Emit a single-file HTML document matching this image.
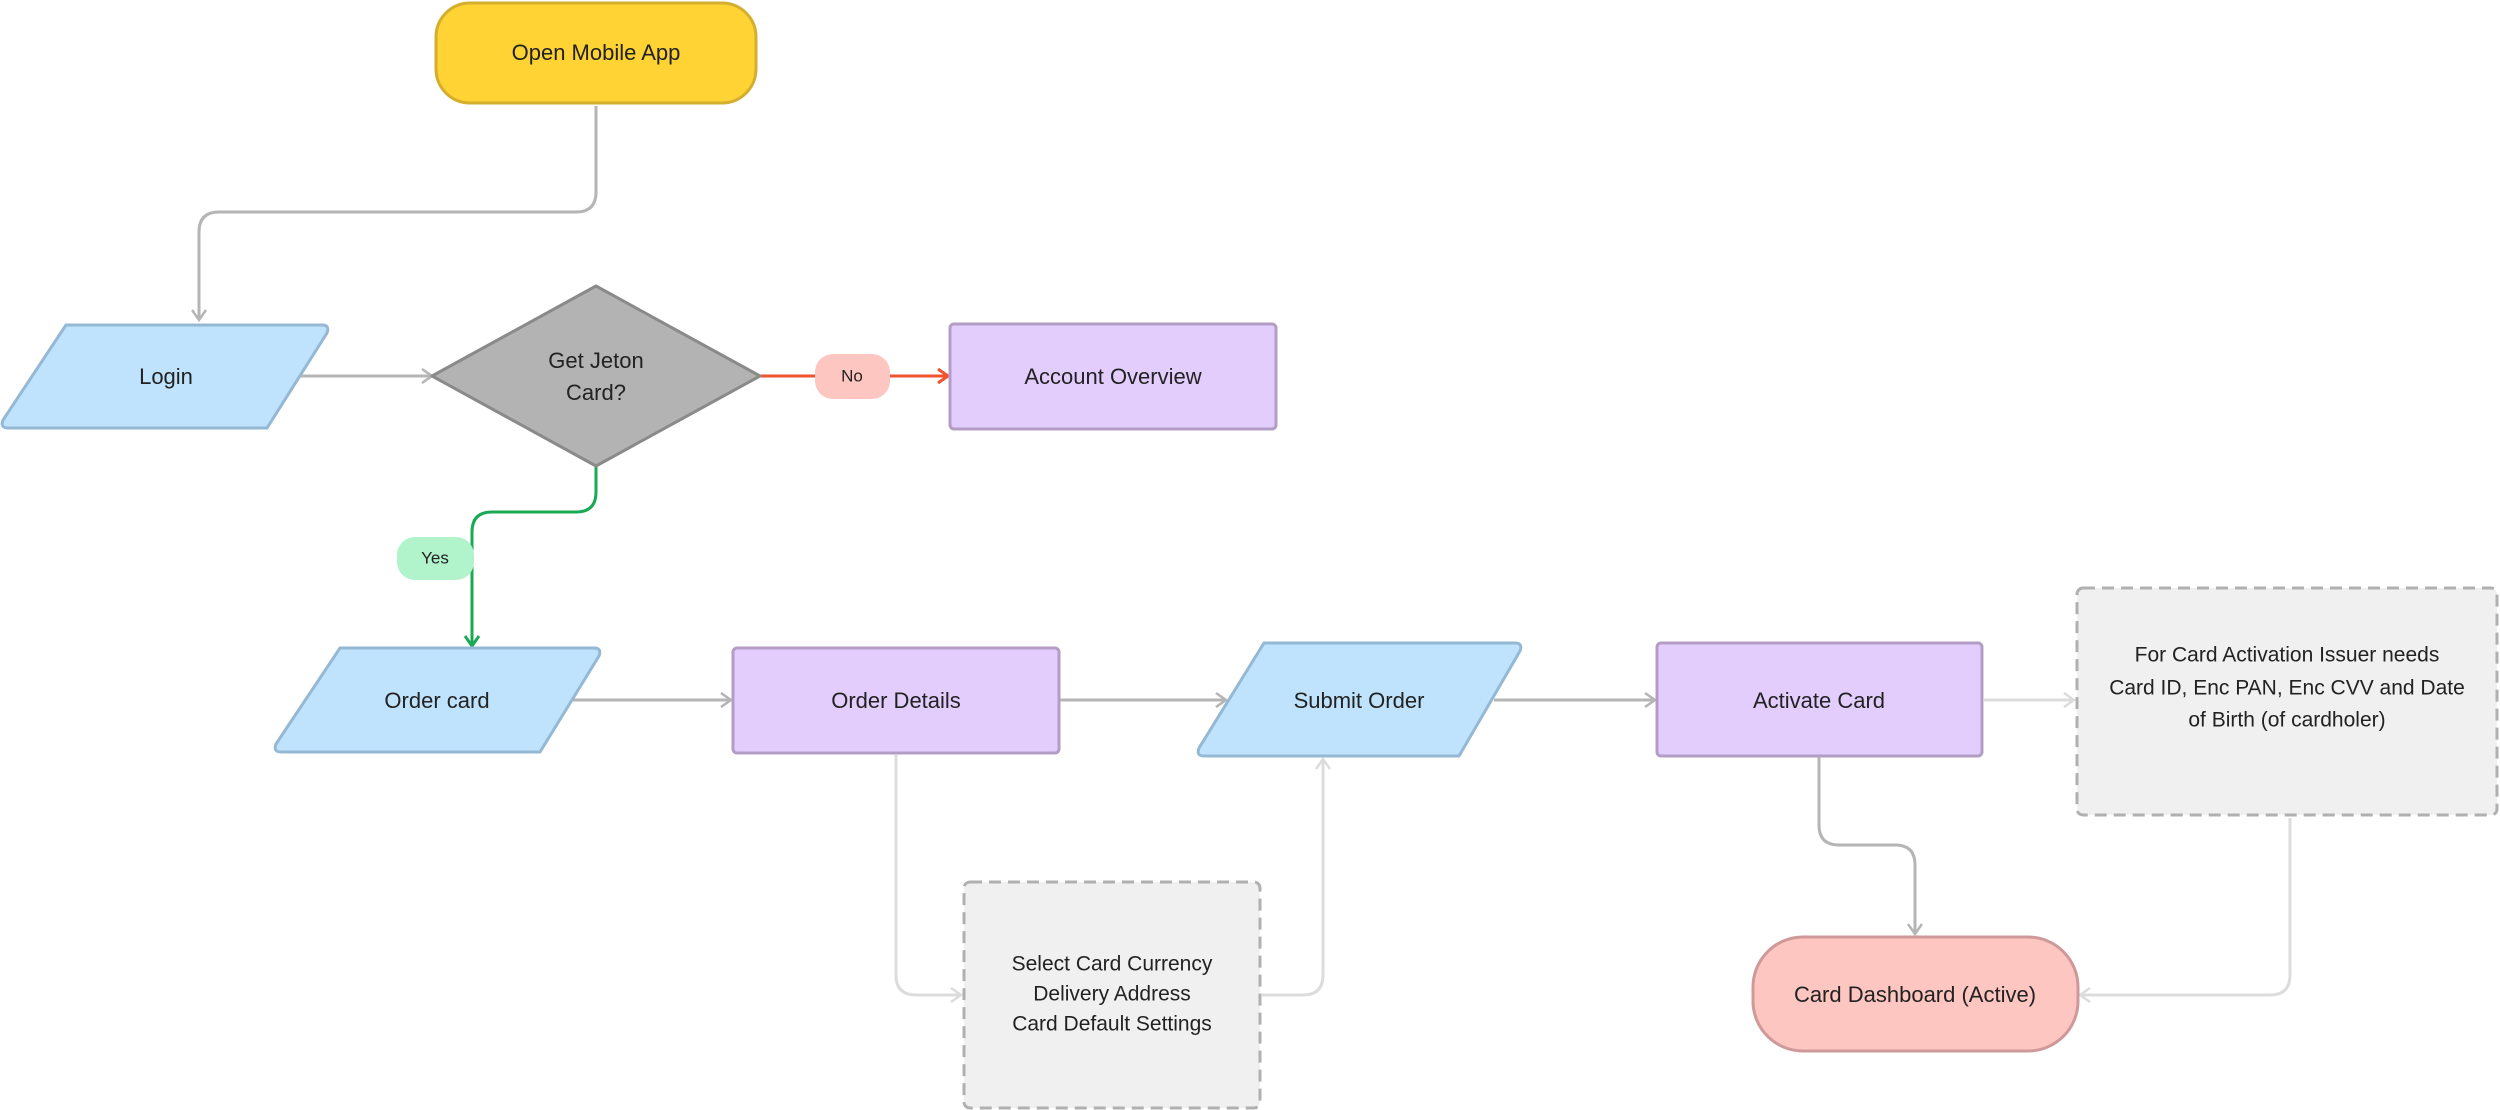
<!DOCTYPE html>
<html><head><meta charset="utf-8"><style>
html,body{margin:0;padding:0;background:#fff;width:2500px;height:1110px;overflow:hidden}
svg text{font-family:"Liberation Sans",Arial,sans-serif;fill:#222;text-anchor:middle;dominant-baseline:middle}
</style></head><body>
<svg width="2500" height="1110" viewBox="0 0 2500 1110" xmlns="http://www.w3.org/2000/svg">
<defs>
<marker id="ag" markerWidth="16" markerHeight="16" refX="12" refY="8" orient="auto" markerUnits="userSpaceOnUse"><path d="M2,1 L12,8 L2,15" fill="none" stroke="#b5b5b5" stroke-width="2.5"/></marker>
<marker id="al" markerWidth="16" markerHeight="16" refX="12" refY="8" orient="auto" markerUnits="userSpaceOnUse"><path d="M2,1 L12,8 L2,15" fill="none" stroke="#dcdcdc" stroke-width="2.5"/></marker>
<marker id="ar" markerWidth="16" markerHeight="16" refX="12" refY="8" orient="auto" markerUnits="userSpaceOnUse"><path d="M2,1 L12,8 L2,15" fill="none" stroke="#f0532f" stroke-width="3"/></marker>
<marker id="agr" markerWidth="16" markerHeight="16" refX="12" refY="8" orient="auto" markerUnits="userSpaceOnUse"><path d="M2,1 L12,8 L2,15" fill="none" stroke="#1aaa55" stroke-width="3"/></marker>
</defs>
<g fill="none" stroke-width="3">
<path d="M596,106 V192 Q596,212 576,212 H219 Q199,212 199,232 V320" stroke="#b5b5b5" marker-end="url(#ag)"/>
<path d="M298,376 H432" stroke="#b5b5b5" marker-end="url(#ag)"/>
<path d="M760,376 H948" stroke="#f0532f" marker-end="url(#ar)"/>
<path d="M596,467 V492 Q596,512 576,512 H492 Q472,512 472,532 V646" stroke="#1aaa55" marker-end="url(#agr)"/>
<path d="M569,700 H731" stroke="#b5b5b5" marker-end="url(#ag)"/>
<path d="M1059,700 H1226" stroke="#b5b5b5" marker-end="url(#ag)"/>
<path d="M1494,700 H1655" stroke="#b5b5b5" marker-end="url(#ag)"/>
<path d="M1984,700 H2074" stroke="#dcdcdc" marker-end="url(#al)"/>
<path d="M1819,757 V825 Q1819,845 1839,845 H1895 Q1915,845 1915,865 V934" stroke="#b5b5b5" marker-end="url(#ag)"/>
<path d="M2290,818 V975 Q2290,995 2270,995 H2080" stroke="#dcdcdc" marker-end="url(#al)"/>
<path d="M896,755 V975 Q896,995 916,995 H961" stroke="#dcdcdc" marker-end="url(#al)"/>
<path d="M1262,995 H1303 Q1323,995 1323,975 V759" stroke="#dcdcdc" marker-end="url(#al)"/>
</g>
<rect x="436" y="3" width="320" height="100" rx="34" fill="#FFD333" stroke="#D4AE2E" stroke-width="3"/>
<text x="596" y="54" font-size="22">Open Mobile App</text>
<path d="M66,325 H322 Q330,325 327,333 L267,428 H8 Q0,428 3,420 Z" fill="#BFE3FC" stroke="#95B8D5" stroke-width="3"/>
<text x="166" y="378" font-size="22">Login</text>
<path d="M596,286 L760,376 L596,466 L432,376 Z" fill="#B3B3B3" stroke="#8a8a8a" stroke-width="3" stroke-linejoin="round"/>
<text x="596" y="362" font-size="22">Get Jeton</text>
<text x="596" y="394" font-size="22">Card?</text>
<rect x="815" y="354" width="75" height="45" rx="18" fill="#FDC6C0"/>
<text x="852" y="377" font-size="17">No</text>
<rect x="950" y="324" width="326" height="105" rx="4" fill="#E3CDFD" stroke="#B39DC5" stroke-width="3"/>
<text x="1113" y="378" font-size="22">Account Overview</text>
<rect x="397" y="537" width="77" height="43" rx="18" fill="#B1F3CA"/>
<text x="435" y="559" font-size="17">Yes</text>
<path d="M340,648 H594 Q602,648 599,656 L540,752 H281 Q273,752 276,744 Z" fill="#BFE3FC" stroke="#95B8D5" stroke-width="3"/>
<text x="437" y="702" font-size="22">Order card</text>
<rect x="733" y="648" width="326" height="105" rx="4" fill="#E3CDFD" stroke="#B39DC5" stroke-width="3"/>
<text x="896" y="702" font-size="22">Order Details</text>
<path d="M1264,643 H1515 Q1523,643 1520,651 L1459,756 H1204 Q1196,756 1199,748 Z" fill="#BFE3FC" stroke="#95B8D5" stroke-width="3"/>
<text x="1359" y="702" font-size="22">Submit Order</text>
<rect x="1657" y="643" width="325" height="113" rx="4" fill="#E3CDFD" stroke="#B39DC5" stroke-width="3"/>
<text x="1819" y="702" font-size="22">Activate Card</text>
<rect x="2077" y="588" width="420" height="227" rx="6" fill="#F0F0F0" stroke="#b0b0b0" stroke-width="3" stroke-dasharray="12,7"/>
<text x="2287" y="656" font-size="21">For Card Activation Issuer needs</text>
<text x="2287" y="689" font-size="21">Card ID, Enc PAN, Enc CVV and Date</text>
<text x="2287" y="721" font-size="21">of Birth (of cardholer)</text>
<rect x="1753" y="937" width="325" height="114" rx="50" fill="#FDC6C0" stroke="#CF9999" stroke-width="3"/>
<text x="1915" y="996" font-size="22">Card Dashboard (Active)</text>
<rect x="964" y="882" width="296" height="226" rx="6" fill="#F0F0F0" stroke="#b0b0b0" stroke-width="3" stroke-dasharray="12,7"/>
<text x="1112" y="965" font-size="21">Select Card Currency</text>
<text x="1112" y="995" font-size="21">Delivery Address</text>
<text x="1112" y="1025" font-size="21">Card Default Settings</text>
</svg>
</body></html>
